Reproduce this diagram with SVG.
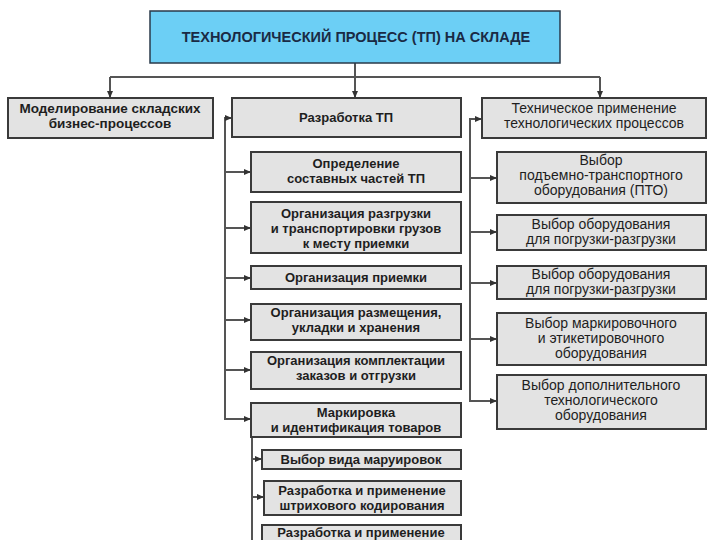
<svg xmlns="http://www.w3.org/2000/svg" width="720" height="540" viewBox="0 0 720 540">
<defs>
<marker id="ah" markerUnits="userSpaceOnUse" markerWidth="8" markerHeight="8" refX="7" refY="4" orient="auto">
<path d="M0,1 L7,4 L0,7 Z" fill="#333"/>
</marker>
<style>
.box{fill:#e3e3e3;stroke:#3a3a3a;stroke-width:2}
.top{fill:#6ccff5;stroke:#2a3a4a;stroke-width:1.5}
.ln{fill:none;stroke:#555;stroke-width:2}
.ar{fill:none;stroke:#555;stroke-width:2;marker-end:url(#ah)}
text{font-family:"Liberation Sans",Arial,sans-serif;fill:#1e1e1e;text-anchor:middle}
.b{font-weight:bold;font-size:13px}
.r{font-size:14px}
.t{font-weight:bold;font-size:14.5px;fill:#1a2a44}
</style>
</defs>
<rect width="720" height="540" fill="#ffffff"/>

<g id="connectors">
<path class="ln" d="M355,63 V77"/>
<path class="ln" d="M110,77 H600"/>
<path class="ar" d="M110,77 V98"/>
<path class="ar" d="M355,77 V98"/>
<path class="ar" d="M600,77 V98"/>
<path class="ar" d="M225,419 V118 H232"/>
<path class="ar" d="M225,172 H251"/>
<path class="ar" d="M225,228 H251"/>
<path class="ar" d="M225,278 H251"/>
<path class="ar" d="M225,320 H251"/>
<path class="ar" d="M225,370 H251"/>
<path class="ar" d="M224,419 H251"/>
<path class="ln" d="M252,437 V540"/>
<path class="ar" d="M252,459 H262"/>
<path class="ar" d="M252,497 H264"/>
<path class="ar" d="M470,401 V119 H482"/>
<path class="ar" d="M470,178 H497"/>
<path class="ar" d="M470,232 H497"/>
<path class="ar" d="M470,283 H497"/>
<path class="ar" d="M470,339 H497"/>
<path class="ar" d="M469,401 H497"/>
</g>

<g id="n-top"><rect class="top" x="150" y="11" width="410" height="52"/><text class="t" x="356" y="42">ТЕХНОЛОГИЧЕСКИЙ ПРОЦЕСС (ТП) НА СКЛАДЕ</text></g>

<g id="n-model"><rect class="box" x="8" y="98" width="205" height="40"/><text class="b" x="110" y="113" style="font-size:13.5px">Моделирование складских</text><text class="b" x="110" y="128" style="font-size:13.5px">бизнес-процессов</text></g>

<g id="n-razr"><rect class="box" x="232" y="98" width="229" height="39"/><text class="b" x="346" y="122">Разработка ТП</text></g>

<g id="n-tech"><rect class="box" x="482" y="98" width="224" height="40"/><text class="r" x="594" y="113">Техническое применение</text><text class="r" x="594" y="128">технологических процессов</text></g>

<g id="n-opr"><rect class="box" x="251" y="152" width="210" height="40"/><text class="b" x="356" y="168">Определение</text><text class="b" x="356" y="183">составных частей ТП</text></g>

<g id="n-razg"><rect class="box" x="251" y="202" width="210" height="51"/><text class="b" x="356" y="218">Организация разгрузки</text><text class="b" x="356" y="233">и  транспортировки грузов</text><text class="b" x="356" y="248">к месту приемки</text></g>

<g id="n-priem"><rect class="box" x="251" y="266" width="210" height="23"/><text class="b" x="356" y="282">Организация приемки</text></g>

<g id="n-razm"><rect class="box" x="251" y="304" width="210" height="36"/><text class="b" x="356" y="317">Организация размещения,</text><text class="b" x="356" y="332">укладки и хранения</text></g>

<g id="n-kompl"><rect class="box" x="251" y="352" width="210" height="37"/><text class="b" x="356" y="365">Организация комплектации</text><text class="b" x="356" y="380">заказов и отгрузки</text></g>

<g id="n-mark"><rect class="box" x="251" y="403" width="210" height="34"/><text class="b" x="356" y="417">Маркировка</text><text class="b" x="356" y="432">и идентификация товаров</text></g>

<g id="n-vid"><rect class="box" x="262" y="450" width="199" height="19"/><text class="b" x="361" y="464">Выбор вида маруировок</text></g>

<g id="n-shtr"><rect class="box" x="264" y="481" width="197" height="34"/><text class="b" x="362" y="495">Разработка и применение</text><text class="b" x="362" y="510">штрихового кодирования</text></g>

<g id="n-last"><rect class="box" x="262" y="525" width="199" height="20"/><text class="b" x="361" y="537">Разработка и применение</text></g>

<g id="n-pto"><rect class="box" x="497" y="152" width="209" height="51"/><text class="r" x="601" y="165">Выбор</text><text class="r" x="601" y="180">подъемно-транспортного</text><text class="r" x="601" y="195">оборудования (ПТО)</text></g>

<g id="n-pogr1"><rect class="box" x="497" y="215" width="209" height="35"/><text class="r" x="601" y="229">Выбор  оборудования</text><text class="r" x="601" y="244">для погрузки-разгрузки</text></g>

<g id="n-pogr2"><rect class="box" x="497" y="266" width="209" height="33"/><text class="r" x="601" y="279">Выбор  оборудования</text><text class="r" x="601" y="294">для погрузки-разгрузки</text></g>

<g id="n-markob"><rect class="box" x="497" y="313" width="209" height="52"/><text class="r" x="601" y="328">Выбор  маркировочного</text><text class="r" x="601" y="343">и этикетировочного</text><text class="r" x="601" y="358">оборудования</text></g>

<g id="n-dop"><rect class="box" x="497" y="375" width="209" height="54"/><text class="r" x="601" y="390">Выбор  дополнительного</text><text class="r" x="601" y="405">технологического</text><text class="r" x="601" y="420">оборудования</text></g>
</svg>
